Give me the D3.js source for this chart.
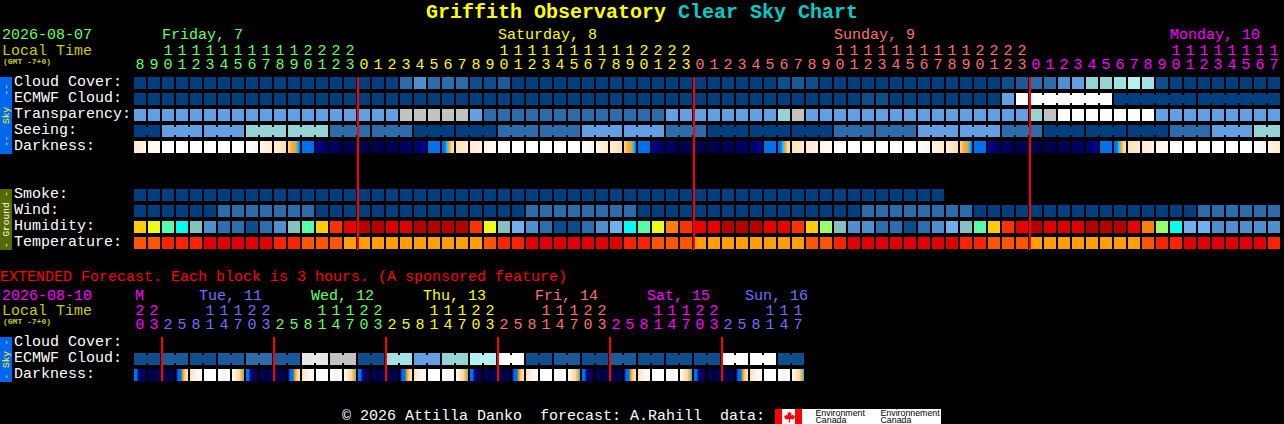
<!DOCTYPE html>
<html>
<head>
<meta charset="utf-8">
<script src="https://cdn.jsdelivr.net/npm/d3@7/dist/d3.min.js"></script>
<style>
html,body{margin:0;padding:0;background:#000;overflow:hidden}
svg{display:block}
text{font-family:"Liberation Mono",monospace;font-size:15px;white-space:pre}
rect{shape-rendering:crispEdges}
</style>
</head>
<body>
<script>
// ---------- Main forecast, one entry per hourly column ----------
const hours = [8,9,10,11,12,13,14,15,16,17,18,19,20,21,22,23,
  0,1,2,3,4,5,6,7,8,9,10,11,12,13,14,15,16,17,18,19,20,21,22,23,
  0,1,2,3,4,5,6,7,8,9,10,11,12,13,14,15,16,17,18,19,20,21,22,23,
  0,1,2,3,4,5,6,7,8,9,10,11,12,13,14,15,16,17];
const dayLabels = ["Friday, 7","Saturday, 8","Sunday, 9","Monday, 10"];
const dayLabelColumns = [2,26,50,74];
const dayFirstColumns = [16,40,64];

// sky levels index into skyPalette
const cloudCover = [0,0,0,0,0,0,0,0,0,0,0,0,0,0,0,0,0,0,0,3,4,3,3,3,
  1,1,2,0,0,0,0,0,0,0,0,0,0,0,0,0,0,0,0,0,0,0,1,2,
  1,0,0,0,0,0,0,0,0,0,0,0,0,0,1,2,3,3,4,5,6,6,7,8,
  7,1,0,0,0,0,0,0,0,0];
const ecmwfCloud = [0,0,0,0,0,0,0,0,0,0,0,0,0,0,0,0,0,0,0,0,0,0,0,0,
  0,0,0,0,0,0,0,0,0,0,0,0,0,0,0,0,0,0,0,0,0,0,0,0,
  0,0,0,0,1,1,0,0,0,0,0,0,0,0,5,11,11,11,11,11,11,11,0,0,
  0,0,0,0,0,0,0,0,0,0];
const ecmwfSpans = [1,1,1,1,1,1,1,1,1,1,1,1,1,1,1,1,1,1,1,1,1,1,1,1,
  1,1,1,1,1,1,1,1,1,1,1,1,1,1,1,1,1,1,1,1,1,1,1,1,
  1,1,1,1,1,1,1,1,1,1,1,1,1,1,1,1,6,6,6];
const transparency = [5,5,5,5,5,5,5,5,5,5,5,5,5,5,5,5,5,5,5,9,9,9,9,9,
  5,3,3,3,3,3,3,3,3,3,3,3,3,3,5,5,5,5,5,5,5,5,6,9,
  5,5,5,5,5,5,5,5,5,5,5,5,5,5,5,5,6,9,11,11,11,11,11,11,
  11,5,5,5,5,5,5,5,5,5];
const seeingBlocks = [0,5,5,6,6,3,3,0,0,3,3,5,5,3,0,0,0,3,3,5,5,3,0,0,0,3,5,6];
const seeingSpans  = [2,3,3,3,3,3,3,3,3,3,3,3,3,3,3,3,3,3,3,3,3,3,3,3,3,3,3,2];
const smoke = [0,0,0,0,0,0,0,0,0,0,0,0,0,0,0,0,0,0,0,0,0,0,0,0,
  0,0,0,0,0,0,0,0,0,0,0,0,0,0,0,0,0,0,0,0,0,0,0,0,
  0,0,0,0,0,0,0,0,0,0];
const wind = [0,0,0,0,0,0,3,3,3,3,3,3,3,0,0,0,0,0,0,0,0,0,0,0,
  0,0,0,0,3,3,3,3,3,3,3,3,0,0,0,0,0,0,0,0,0,0,0,0,
  0,0,0,0,3,3,3,3,3,3,3,3,0,0,0,0,0,0,0,0,0,0,0,0,
  0,0,0,0,3,3,3,3,3,3];
const humidityPct = [67,62,52,47,42,32,27,27,22,27,32,42,52,67,77,82,92,92,87,87,92,92,92,92,
  77,62,42,37,32,27,22,22,27,32,37,47,52,62,72,77,82,82,92,92,92,82,82,77,
  67,57,42,32,32,27,27,22,27,32,37,42,52,67,77,82,92,87,87,87,92,92,92,82,
  72,57,47,37,37,32,32,32,32,32];
const temperatureC = [24,24,28,28,28,32,32,32,32,32,28,28,24,24,24,20,20,20,20,20,20,20,20,20,
  20,24,28,28,32,32,32,32,32,32,32,28,28,24,24,24,20,20,20,20,20,20,20,20,
  24,24,28,32,32,32,32,32,32,32,32,28,28,24,24,24,20,20,20,20,20,20,20,20,
  24,28,28,32,32,32,32,32,32,28];
// darkness levels sampled evenly across each block (0 day ... 9 deep night)
const darkness = [[2,1],[1,.5],[0,0],[0,0],[0,0],[0,0],[0,0],[0,0],[.3,1],[1,2],[1.5,2.5],[3,3.5,4,4,5,6],
  [6,6],[7,7.5,8,8.3],[8.3,8.6],[8.7,9],[9,9],[9,9],[8.8,8.5],[8.5,8.2],[8.2,8,7.5,7],[6,6],[6,6,5,4,3,2.6],[2.5,2],
  [2,1.3],[1,.5],[0,0],[0,0],[0,0],[0,0],[0,0],[0,0],[.3,1],[1,2],[1.5,2.5],[3,3.5,4,4,5,6],
  [6,6],[7,7.5,8,8.3],[8.3,8.6],[8.7,9],[9,9],[9,9],[8.8,8.5],[8.5,8.2],[8.2,8,7.5,7],[6,6],[6,6,5,4,3,2.6],[2.5,2],
  [2,1.3],[1,.5],[0,0],[0,0],[0,0],[0,0],[0,0],[0,0],[.3,1],[1,2],[1.5,2.5],[3,3.5,4,4,5,6],
  [6,6],[7,7.5,8,8.3],[8.3,8.6],[8.7,9],[9,9],[9,9],[8.8,8.5],[8.5,8.2],[8.2,8,7.5,7],[6,6],[6,6,5,4,3,2.6],[2.5,2],
  [2,1.3],[1,.5],[0,0],[0,0],[0,0],[0,0],[0,0],[0,0],[.3,1],[1,2]];

// ---------- Extended forecast, one entry per 3-hour column ----------
const extHours = [20,23,2,5,8,11,14,17,20,23,2,5,8,11,14,17,20,23,2,5,8,11,14,17,20,23,
  2,5,8,11,14,17,20,23,2,5,8,11,14,17,20,23,2,5,8,11,14,17];
const extDayLabels = ["M","Tue, 11","Wed, 12","Thu, 13","Fri, 14","Sat, 15","Sun, 16"];
const extDayLabelColumns = [0,5,13,21,29,37,44];
const extDayFirstColumns = [2,10,18,26,34,42];
const extEcmwfBlocks = [1,2,1,2,3,2,10,9,1,7,5,6,8,11,1,2,1,2,1,1,1,11,11,1];
const extDarkness = [[6,6,7.5,8,8.5,9],[9,9],[9,9],[7.5,6,6,4,3,2.5],[2.5,1.5,.8,.3],[0,0],[0,0],[.7,1.5,2.2,3,3.8,4.6],
  [6,6,7.5,8.3,9,9],[9,9],[9,9],[7.5,6,6,4,3,2.5],[2.5,1.5,.8,.3],[0,0],[0,0],[.7,1.5,2.2,3,3.8,4.6],
  [6,6,7.5,8.3,9,9],[9,9],[9,9],[7.5,6,6,4,3,2.5],[2.5,1.5,.8,.3],[0,0],[0,0],[.7,1.5,2.2,3,3.8,4.6],
  [6,6,7.5,8.3,9,9],[9,9],[9,9],[7.5,6,6,4,3,2.5],[2.5,1.5,.8,.3],[0,0],[0,0],[.7,1.5,2.2,3,3.8,5],
  [6,6,7.5,8.3,9,9],[9,9],[9,9],[7.5,6,6,4,3,2.5],[2.5,1.5,.8,.3],[0,0],[0,0],[.7,1.5,2.2,3,3.8,5],
  [6,6,7.5,8.3,9,9],[9,9],[9,9],[7.5,6,6,4,3,2.5],[2.5,1.5,.8,.3],[0,0],[0,0],[.7,1.5,2.2,3,3.8,5]];

const skyRowLabels = ["Cloud Cover:","ECMWF Cloud:","Transparency:","Seeing:","Darkness:"];
const groundRowLabels = ["Smoke:","Wind:","Humidity:","Temperature:"];
const extRowLabels = ["Cloud Cover:","ECMWF Cloud:","Darkness:"];
const midnightColumns = [16,40,64];
const extMidnightColumns = [2,10,18,26,34,42];

// ---------- Styles ----------
const skyPalette = ["#003f7f","#0e4e8e","#1a5a9a","#2c6cac","#4f8fcf","#62a0e3","#94d4d4","#a2e2e2","#b4f2f2","#c2c2c2","#e8e8e8","#ffffff"];
const humidityBins = [25,30,35,40,45,50,55,60,65,70,75,80,85,90];
const humidityPalette = ["#0b4c8c","#2c6eaf","#4f8fd0","#70b0f0","#85bfbf","#00ffee","#55ffaa","#99ff66","#eaff14","#ffcc00","#ff8000","#ff3300","#ea0000","#dc0000","#b50000"];
const temperatureBins = [22,26,30];
const temperaturePalette = ["#ffa000","#ff5500","#ff2200","#e00000"];
const darknessPalette = ["#ffffff","#fff6ea","#ffe9cc","#ffd79a","#ffa428","#00c8ff","#0070ee","#0000a0","#00006a","#00004c"];
const GREEN="#66ff66",YEL="#ffff00",SALMON="#ff7070",MAG="#ff00ff",PERI="#7070ff",OLIVE="#cccc00";
const dayColors = [GREEN,YEL,SALMON,MAG];
const extColors = [MAG,PERI,GREEN,YEL,SALMON,MAG,PERI];

// ---------- Scales ----------
const xMain = d3.scaleBand().domain(d3.range(hours.length)).range([133,133+14*hours.length]).paddingInner(1/7).paddingOuter(1/14);
const xExt  = d3.scaleBand().domain(d3.range(extHours.length)).range([133,133+14*extHours.length]).paddingInner(1/7).paddingOuter(1/14);
const ySky = d3.scaleBand().domain(skyRowLabels).range([75,155]).paddingInner(.25).paddingOuter(.125);
const yGround = d3.scaleBand().domain(groundRowLabels).range([187,251]).paddingInner(.25).paddingOuter(.125);
const yExt = d3.scaleBand().domain(extRowLabels).range([335,383]).paddingInner(.25).paddingOuter(.125);
const skyColor = d3.scaleOrdinal().domain(d3.range(skyPalette.length)).range(skyPalette);
const humidityColor = d3.scaleThreshold().domain(humidityBins).range(humidityPalette);
const temperatureColor = d3.scaleThreshold().domain(temperatureBins).range(temperaturePalette);
const darknessColor = d3.scaleLinear().domain(d3.range(darknessPalette.length)).range(darknessPalette);
const dayColorOf = d3.scaleThreshold().domain(dayFirstColumns).range(dayColors);
const extColorOf = d3.scaleThreshold().domain(extDayFirstColumns).range(extColors);

const svg = d3.select("body").append("svg").attr("width",1284).attr("height",424);
const defs = svg.append("defs");
svg.append("rect").attr("width",1284).attr("height",424).attr("fill","#000");

function txt(x,y,s,fill,o={}){
  const t = svg.append("text").attr("x",x).attr("y",y).attr("fill",fill).text(s);
  if(o.size) t.style("font-size",o.size+"px");
  if(o.bold) t.style("font-weight","bold");
  if(o.anchor) t.attr("text-anchor",o.anchor);
  if(o.family) t.style("font-family",o.family);
  if(o.rotate) t.attr("transform",`rotate(${o.rotate} ${x} ${y})`);
  return t;
}

function cells(values,x,y,color){
  svg.append("g").selectAll("rect").data(values).join("rect")
    .attr("x",(d,i)=>x(i)).attr("y",y).attr("width",x.bandwidth()).attr("height",12)
    .attr("fill",d=>color(d));
}
// blocks of joined cells: spans gives how many cells each value covers
function spanCells(values,spans,x,y,color){
  const g = svg.append("g");
  let col = 0;
  values.forEach((v,k)=>{
    for(let n=0;n<spans[k];n++){
      g.append("rect").attr("x",x(col+n)).attr("y",y).attr("width",x.bandwidth()).attr("height",12).attr("fill",color(v));
      if(n<spans[k]-1)
        g.append("rect").attr("x",x(col+n)+x.bandwidth()).attr("y",y+2).attr("width",x.step()-x.bandwidth()).attr("height",8).attr("fill",color(v));
    }
    col += spans[k];
  });
}
let gid = 0;
function darkCells(values,x,y){
  const g = svg.append("g");
  values.forEach((samples,i)=>{
    const id = "dk"+(gid++);
    const lg = defs.append("linearGradient").attr("id",id);
    samples.forEach((s,j)=>lg.append("stop").attr("offset",j/(samples.length-1)).attr("stop-color",darknessColor(s)));
    g.append("rect").attr("x",x(i)).attr("y",y).attr("width",x.bandwidth()).attr("height",12).attr("fill",`url(#${id})`);
  });
}
function redLines(cols,x,y0,y1){
  svg.append("g").selectAll("rect").data(cols).join("rect")
    .attr("x",d=>x(d)-1).attr("y",y0).attr("width",2).attr("height",y1-y0).attr("fill","#ff0000");
}
function hourDigits(list,x,yTens,yOnes,color){
  list.forEach((h,i)=>{
    const cx = x(i)+x.bandwidth()/2;
    if(h>=10) txt(cx,yTens,String(Math.floor(h/10)),color(i),{anchor:"middle"});
    txt(cx,yOnes,String(h%10),color(i),{anchor:"middle"});
  });
}

// ---------- Title ----------
txt(426,18,"Griffith Observatory",YEL,{size:20,bold:true});
txt(678,18,"Clear Sky Chart","#00cccc",{size:20,bold:true});

// ---------- Main header ----------
txt(2,39,"2026-08-07",GREEN);
txt(2,55,"Local Time",OLIVE);
txt(3,64,"(GMT -7+0)",OLIVE,{size:8,bold:true});
dayLabels.forEach((s,i)=>txt(xMain(dayLabelColumns[i]),39,s,dayColors[i]));
hourDigits(hours,xMain,55,69,dayColorOf);

// ---------- Main rows ----------
cells(cloudCover,xMain,ySky("Cloud Cover:"),skyColor);
spanCells(ecmwfCloud.filter((d,i)=>i<64||(i-64)%6===0),ecmwfSpans,xMain,ySky("ECMWF Cloud:"),skyColor);
cells(transparency,xMain,ySky("Transparency:"),skyColor);
spanCells(seeingBlocks,seeingSpans,xMain,ySky("Seeing:"),skyColor);
darkCells(darkness,xMain,ySky("Darkness:"));
cells(smoke,xMain,yGround("Smoke:"),skyColor);
cells(wind,xMain,yGround("Wind:"),skyColor);
cells(humidityPct,xMain,yGround("Humidity:"),humidityColor);
cells(temperatureC,xMain,yGround("Temperature:"),temperatureColor);
redLines(midnightColumns,xMain,77,250);

skyRowLabels.forEach(s=>txt(14,ySky(s)+9,s,"#fff"));
groundRowLabels.forEach(s=>txt(14,yGround(s)+9,s,"#fff"));

svg.append("rect").attr("x",0).attr("y",77).attr("width",12).attr("height",77).attr("fill","#0066ee");
txt(9,115.5,"--  Sky  --",YEL,{size:9.5,anchor:"middle",rotate:-90});
svg.append("rect").attr("x",0).attr("y",189).attr("width",12).attr("height",61).attr("fill","#556b00");
txt(9,219.5,"- Ground -","#fff",{size:9.5,anchor:"middle",rotate:-90});

// ---------- Extended ----------
txt(0,281,"EXTENDED Forecast. Each block is 3 hours. (A sponsored feature)","#ff0000");
txt(2,300,"2026-08-10",MAG);
txt(2,315,"Local Time",OLIVE);
txt(3,324,"(GMT -7+0)",OLIVE,{size:8,bold:true});
extDayLabels.forEach((s,i)=>txt(xExt(extDayLabelColumns[i])+(i?-5:1),300,s,extColors[i]));
hourDigits(extHours,xExt,315,329,extColorOf);

spanCells(extEcmwfBlocks,extEcmwfBlocks.map(()=>2),xExt,yExt("ECMWF Cloud:"),skyColor);
darkCells(extDarkness,xExt,yExt("Darkness:"));
redLines(extMidnightColumns,xExt,337,381);
extRowLabels.forEach(s=>txt(14,yExt(s)+9,s,"#fff"));
svg.append("rect").attr("x",0).attr("y",337).attr("width",12).attr("height",45).attr("fill","#0066ee");
txt(9,359.5,"- Sky -",YEL,{size:9.5,anchor:"middle",rotate:-90});

// ---------- Footer ----------
txt(342,420,"\u00a9 2026 Attilla Danko  forecast: A.Rahill  data:","#fff");
svg.append("rect").attr("x",775).attr("y",409).attr("width",166).attr("height",15).attr("fill","#fff");
svg.append("rect").attr("x",775).attr("y",409).attr("width",7).attr("height",15).attr("fill","#ff0000");
svg.append("rect").attr("x",795).attr("y",409).attr("width",7).attr("height",15).attr("fill","#ff0000");
svg.append("path").attr("fill","#ff0000").attr("d","M788.5 410.5l1.5 2.5 1.5-.5-.5 3 2-1 .5 1.5 1.5-.5-1 3-1 1-3-.5v3.5h-1v-3.5l-3 .5-1-1-1-3 1.5.5.5-1.5 2 1-.5-3 1.5.5z");
const sans = "'Liberation Sans',sans-serif";
txt(815.5,415.8,"Environment","#000",{size:8.8,family:sans});
txt(815.5,422.5,"Canada","#000",{size:8.8,family:sans});
txt(880.5,415.8,"Environnement","#000",{size:8.8,family:sans});
txt(880.5,422.5,"Canada","#000",{size:8.8,family:sans});
</script>
</body>
</html>
